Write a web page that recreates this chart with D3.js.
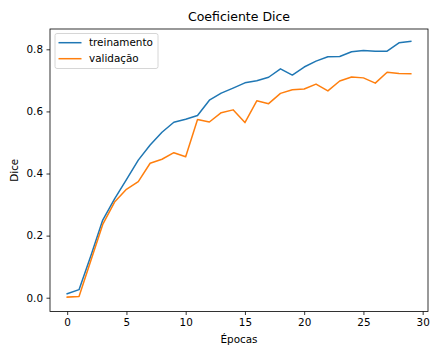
<!DOCTYPE html>
<html>
<head>
<meta charset="utf-8">
<script src="https://cdn.jsdelivr.net/npm/d3@7"></script>
<style>
  body { margin: 0; background: #fff; }
  svg { display: block; font-family: "DejaVu Sans", sans-serif; }
</style>
</head>
<body>
<div id="chart"></div>
<script>
// dados
var epocas = d3.range(0, 30);
var treinamento = [0.013, 0.026, 0.135, 0.250, 0.318, 0.380, 0.443, 0.492, 0.533, 0.565,
    0.575, 0.587, 0.636, 0.659, 0.675, 0.692, 0.699, 0.710, 0.737, 0.717,
    0.743, 0.762, 0.776, 0.777, 0.792, 0.796, 0.794, 0.794, 0.821, 0.826];
var validacao = [0.002, 0.004, 0.120, 0.236, 0.308, 0.349, 0.374, 0.433, 0.446, 0.467,
    0.454, 0.574, 0.566, 0.596, 0.605, 0.564, 0.634, 0.625, 0.658, 0.670,
    0.672, 0.688, 0.666, 0.698, 0.711, 0.708, 0.691, 0.726, 0.722, 0.721];
var xTicks = [0, 5, 10, 15, 20, 25, 30];
var yTicks = [0.0, 0.2, 0.4, 0.6, 0.8];
var seriesNames = ['treinamento', 'validação'];
var seriesColors = ['#1f77b4', '#ff7f0e'];

var width = 430, height = 347;
var plot = { left: 50, right: 428, top: 29, bottom: 311.5 };

var svg = d3.select('#chart').append('svg')
    .attr('width', width)
    .attr('height', height);

var x = d3.scaleLinear().domain([-1.45, 30.45]).range([plot.left, plot.right]);
var y = d3.scaleLinear().domain([-0.0444, 0.8654]).range([plot.bottom, plot.top]);

// eixos
var xAxis = svg.append('g')
    .attr('transform', 'translate(0,' + plot.bottom + ')')
    .call(d3.axisBottom(x).tickValues(xTicks).tickFormat(d3.format('d')).tickSize(3.5).tickPadding(3.5));
var yAxis = svg.append('g')
    .attr('transform', 'translate(' + plot.left + ',0)')
    .call(d3.axisLeft(y).tickValues(yTicks).tickFormat(d3.format('.1f')).tickSize(3.5).tickPadding(3.5));

[xAxis, yAxis].forEach(function (g) {
    g.select('.domain').remove();
    g.selectAll('.tick line').attr('stroke', '#000').attr('stroke-width', 0.8);
    g.selectAll('.tick text').attr('fill', '#000').style('font-size', '10.4px').style('font-family', '"DejaVu Sans", sans-serif');
});

// linhas
var line = d3.line()
    .x(function (d, i) { return x(epocas[i]); })
    .y(function (d) { return y(d); });

[treinamento, validacao].forEach(function (serie, k) {
    svg.append('path')
        .datum(serie)
        .attr('fill', 'none')
        .attr('stroke', seriesColors[k])
        .attr('stroke-width', 1.5)
        .attr('stroke-linejoin', 'round')
        .attr('stroke-linecap', 'square')
        .attr('d', line);
});

// moldura
svg.append('rect')
    .attr('x', plot.left)
    .attr('y', plot.top)
    .attr('width', plot.right - plot.left)
    .attr('height', plot.bottom - plot.top)
    .attr('fill', 'none')
    .attr('stroke', '#000')
    .attr('stroke-width', 0.8);

// textos
svg.append('text')
    .attr('x', (plot.left + plot.right) / 2)
    .attr('y', 21)
    .attr('text-anchor', 'middle')
    .style('font-size', '12.5px')
    .text('Coeficiente Dice');

svg.append('text')
    .attr('x', (plot.left + plot.right) / 2)
    .attr('y', 343)
    .attr('text-anchor', 'middle')
    .style('font-size', '10.4px')
    .text('Épocas');

svg.append('text')
    .attr('transform', 'translate(18,' + ((plot.top + plot.bottom) / 2) + ') rotate(-90)')
    .attr('text-anchor', 'middle')
    .style('font-size', '10.4px')
    .text('Dice');

// legenda
var legend = svg.append('g');
legend.append('rect')
    .attr('x', 55)
    .attr('y', 33.5)
    .attr('width', 103)
    .attr('height', 35)
    .attr('rx', 2)
    .attr('fill', '#fff')
    .attr('fill-opacity', 0.8)
    .attr('stroke', '#cccccc')
    .attr('stroke-width', 0.8);

seriesNames.forEach(function (name, i) {
    var ly = 42.7 + i * 16;
    legend.append('line')
        .attr('x1', 58.5).attr('x2', 81.5)
        .attr('y1', ly).attr('y2', ly)
        .attr('stroke', seriesColors[i])
        .attr('stroke-width', 1.5);
    legend.append('text')
        .attr('x', 89)
        .attr('y', ly + 3.7)
        .style('font-size', '10.4px')
        .text(name);
});
</script>
</body>
</html>
